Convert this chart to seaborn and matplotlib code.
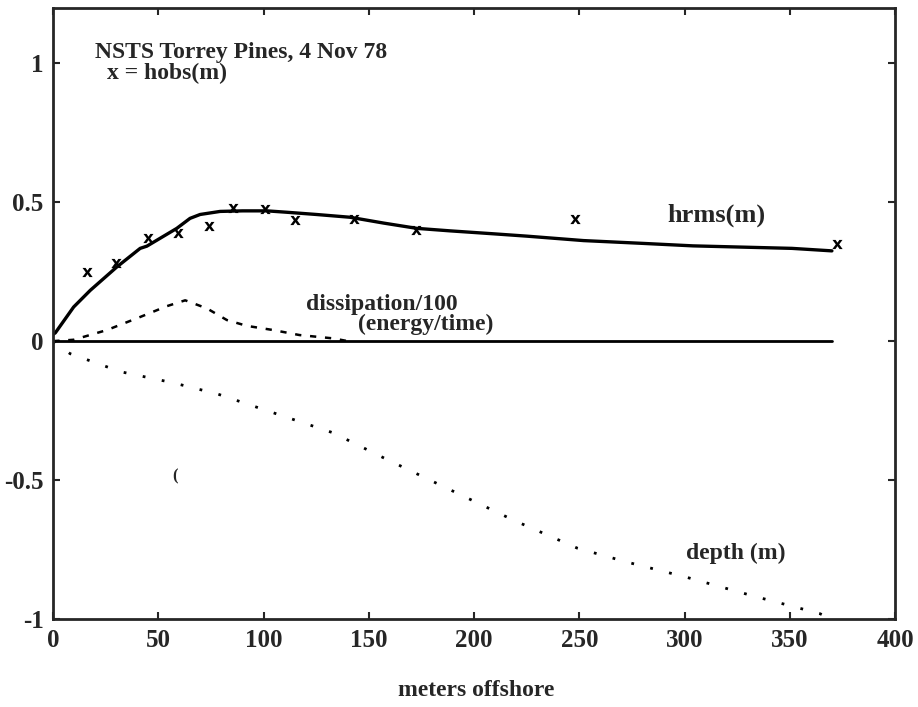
import matplotlib
matplotlib.use("Agg")
import matplotlib.pyplot as plt
import seaborn as sns

# hrms model curve
hrms_x = [0, 1, 9.7, 17.6, 30.2, 41.3, 44.5, 58.7, 65, 69.8, 79.3, 90, 101.5, 111, 125, 141, 157, 172.8, 188.6,
          210, 225, 252, 280, 304, 330, 351, 370]
hrms_y = [0.025, 0.03, 0.123, 0.183, 0.267, 0.334, 0.342, 0.406, 0.442, 0.456, 0.467, 0.469, 0.469, 0.464, 0.456,
          0.446, 0.425, 0.406, 0.397, 0.386, 0.378, 0.362, 0.352, 0.343, 0.338, 0.334, 0.325]

# observed hobs
hobs_x = [16, 30, 45, 59.5, 74, 85.6, 100.7, 115, 142.7, 172.5, 248, 372.5]
hobs_y = [0.248, 0.28, 0.37, 0.39, 0.415, 0.48, 0.475, 0.435, 0.44, 0.40, 0.44, 0.35]

# dissipation/100
diss_x = [0, 9.7, 25.5, 41.3, 54, 62.7, 73, 82.5, 92, 104.5, 117, 133, 140]
diss_y = [0.0, 0.005, 0.04, 0.087, 0.126, 0.147, 0.118, 0.076, 0.055, 0.04, 0.022, 0.01, 0.0]

# zero line
zero_x = [0, 370]
zero_y = [0, 0]

# depth
depth_x = [0, 8, 32, 57, 78, 101.5, 133, 157, 188.6, 218.6, 249, 272.5, 301, 332.5, 364, 370]
depth_y = [0, -0.045, -0.11, -0.15, -0.19, -0.25, -0.33, -0.42, -0.535, -0.644, -0.745, -0.795, -0.85, -0.917, -0.98, -1.0]

x_ticks = [0, 50, 100, 150, 200, 250, 300, 350, 400]
y_ticks = [-1, -0.5, 0, 0.5, 1]
y_tick_labels = ["-1", "-0.5", "0", "0.5", "1"]

sns.set_style("ticks")
plt.rcParams['font.family'] = ['Liberation Serif', 'DejaVu Serif']
plt.rcParams['font.weight'] = 'bold'

fig = plt.figure(figsize=(9.18, 7.07), dpi=100)
ax = fig.add_axes([0.058, 0.1245, 0.917, 0.8645])

sns.lineplot(x=hrms_x, y=hrms_y, ax=ax, color="black", lw=2.4, sort=False)
sns.lineplot(x=diss_x, y=diss_y, ax=ax, color="black", lw=1.8, sort=False,
             linestyle=(0, (2.5, 3.5)))
sns.lineplot(x=zero_x, y=zero_y, ax=ax, color="black", lw=2.0, sort=False)
sns.lineplot(x=depth_x, y=depth_y, ax=ax, color="black", lw=2.0, sort=False,
             linestyle=(0, (1, 6)))
sns.scatterplot(x=hobs_x, y=hobs_y, ax=ax, color="black", marker=r'$\mathbf{x}$',
                s=55, linewidth=0)

ax.text(58, -0.485, "(", fontsize=12, fontweight='bold', ha='center', va='center')

ax.set_xlim(0, 400)
ax.set_ylim(-1, 1.2)
ax.set_xticks(x_ticks)
ax.set_xticklabels([str(t) for t in x_ticks])
ax.set_yticks(y_ticks)
ax.set_yticklabels(y_tick_labels)
ax.tick_params(direction='in', length=5, width=1.5, top=True, right=True,
               labelsize=18, pad=7)
for s in ax.spines.values():
    s.set_linewidth(2.0)
    s.set_visible(True)

fs = 17
ax.text(20, 1.04, "NSTS Torrey Pines, 4 Nov 78", fontsize=fs, fontweight='bold',
        ha='left', va='center')
ax.text(25.6, 0.964, "x = hobs(m)", fontsize=fs, fontweight='bold', ha='left', va='center')
ax.text(292, 0.453, "hrms(m)", fontsize=19, fontweight='bold', ha='left', va='center')
ax.text(120, 0.133, "dissipation/100", fontsize=fs, fontweight='bold', ha='left', va='center')
ax.text(145, 0.061, "(energy/time)", fontsize=fs, fontweight='bold', ha='left', va='center')
ax.text(300.7, -0.763, "depth (m)", fontsize=fs, fontweight='bold', ha='left', va='center')

fig.text(476 / 918, 1 - 690 / 707, "meters offshore", fontsize=fs, fontweight='bold',
         ha='center', va='center')

fig.savefig("out.png", dpi=100)
